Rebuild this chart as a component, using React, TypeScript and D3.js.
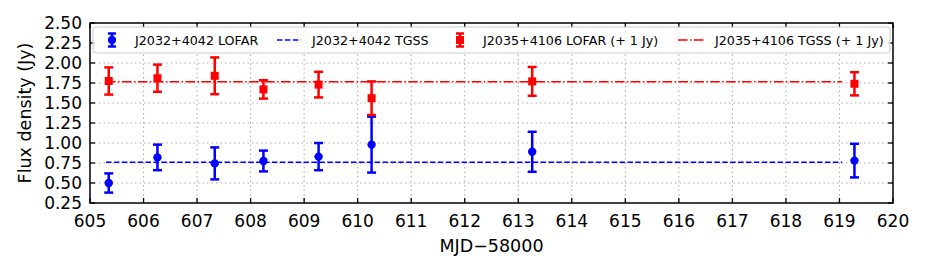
import React from "react";
import * as d3 from "d3";

const mjdBlue = [605.35, 606.26, 607.33, 608.24, 609.27, 610.26, 613.26, 619.28];
const fluxBlue = [0.5, 0.82, 0.745, 0.775, 0.83, 0.98, 0.89, 0.78];
const errBlue = [0.12, 0.16, 0.2, 0.13, 0.17, 0.35, 0.25, 0.21];

const mjdRed = [605.35, 606.26, 607.33, 608.24, 609.27, 610.26, 613.26, 619.28];
const fluxRed = [1.775, 1.81, 1.84, 1.67, 1.73, 1.56, 1.77, 1.74];
const errRed = [0.17, 0.17, 0.23, 0.115, 0.16, 0.21, 0.18, 0.145];

const tgssMJD = [605.3, 619.05];
const tgssBlue = 0.76;
const tgssRed = 1.765;

const xTicks = [605, 606, 607, 608, 609, 610, 611, 612, 613, 614, 615, 616, 617, 618, 619, 620];
const yTicks = [0.25, 0.5, 0.75, 1.0, 1.25, 1.5, 1.75, 2.0, 2.25, 2.5];

const legendLabels = [
  "J2032+4042 LOFAR",
  "J2032+4042 TGSS",
  "J2035+4106 LOFAR (+ 1 Jy)",
  "J2035+4106 TGSS (+ 1 Jy)",
];

const W = 928;
const H = 273;
const L = 90, R = 893, T = 23, B = 203;
const FONT = "DejaVu Sans, sans-serif";

export default function App() {
  const x = d3.scaleLinear().domain([605, 620]).range([L, R]);
  const y = d3.scaleLinear().domain([0.25, 2.5]).range([B, T]);
  const line = d3.line<[number, number]>().x((d) => x(d[0])).y((d) => y(d[1]));
  const BLUE = "#0000ff";
  const RED = "#ff0000";
  const tick = 5;

  const errbar = (cx: number, cy: number, lo: number, hi: number, color: string, sq: boolean, key: string, cap = 4.5) => (
    <g key={key}>
      <line x1={cx} x2={cx} y1={lo} y2={hi} stroke={color} strokeWidth={2.5} />
      <line x1={cx - cap} x2={cx + cap} y1={lo} y2={lo} stroke={color} strokeWidth={2.5} />
      <line x1={cx - cap} x2={cx + cap} y1={hi} y2={hi} stroke={color} strokeWidth={2.5} />
      {sq ? (
        <rect x={cx - 4} y={cy - 4} width={8} height={8} fill={color} />
      ) : (
        <circle cx={cx} cy={cy} r={4.2} fill={color} />
      )}
    </g>
  );

  const legendY = 40;
  return (
    <svg width={W} height={H} style={{ position: "absolute", left: 0, top: 0 }} fontFamily={FONT}>
      <rect x={0} y={0} width={W} height={H} fill="white" />
      {xTicks.slice(1, -1).map((t) => (
        <line key={"gx" + t} x1={x(t)} x2={x(t)} y1={T} y2={B} stroke="#b0b0b0" strokeWidth={1.1} strokeDasharray="1.5,3" />
      ))}
      {yTicks.slice(1, -1).map((t) => (
        <line key={"gy" + t} x1={L} x2={R} y1={y(t)} y2={y(t)} stroke="#b0b0b0" strokeWidth={1.1} strokeDasharray="1.5,3" />
      ))}
      <path d={line(tgssMJD.map((m) => [m, tgssBlue]) as [number, number][]) || ""} fill="none" stroke={BLUE} strokeWidth={1.5} strokeDasharray="5.5,2.4" />
      <path d={line(tgssMJD.map((m) => [m, tgssRed]) as [number, number][]) || ""} fill="none" stroke={RED} strokeWidth={1.5} strokeDasharray="9.6,2.4,1.5,2.4" />
      {mjdBlue.map((m, i) =>
        errbar(x(m), y(fluxBlue[i]), y(fluxBlue[i] - errBlue[i]), y(fluxBlue[i] + errBlue[i]), BLUE, false, "b" + i)
      )}
      {mjdRed.map((m, i) =>
        errbar(x(m), y(fluxRed[i]), y(fluxRed[i] - errRed[i]), y(fluxRed[i] + errRed[i]), RED, true, "r" + i)
      )}
      {xTicks.map((t) => (
        <g key={"tx" + t}>
          <line x1={x(t)} x2={x(t)} y1={B} y2={B - tick} stroke="black" strokeWidth={1.3} />
          <line x1={x(t)} x2={x(t)} y1={T} y2={T + tick} stroke="black" strokeWidth={1.3} />
          <text x={x(t)} y={227} textAnchor="middle" fontSize={17}>{t}</text>
        </g>
      ))}
      {yTicks.map((t) => (
        <g key={"ty" + t}>
          <line x1={L} x2={L + tick} y1={y(t)} y2={y(t)} stroke="black" strokeWidth={1.3} />
          <line x1={R} x2={R - tick} y1={y(t)} y2={y(t)} stroke="black" strokeWidth={1.3} />
          <text x={82} y={y(t)} dy="0.36em" textAnchor="end" fontSize={17}>{t.toFixed(2)}</text>
        </g>
      ))}
      <rect x={93} y={27} width={797} height={26} rx={3} fill="white" fillOpacity={0.8} stroke="#cccccc" strokeWidth={1} />
      {errbar(112, legendY, legendY + 6.5, legendY - 6.5, BLUE, false, "lb", 4)}
      <text x={135} y={legendY} dy="0.36em" fontSize={12.7}>{legendLabels[0]}</text>
      <line x1={277} x2={301} y1={legendY} y2={legendY} stroke={BLUE} strokeWidth={1.5} strokeDasharray="5.5,2.4" />
      <text x={312} y={legendY} dy="0.36em" fontSize={12.7}>{legendLabels[1]}</text>
      {errbar(460, legendY, legendY + 6.5, legendY - 6.5, RED, true, "lr", 4)}
      <text x={483} y={legendY} dy="0.36em" fontSize={12.7}>{legendLabels[2]}</text>
      <line x1={678} x2={704} y1={legendY} y2={legendY} stroke={RED} strokeWidth={1.5} strokeDasharray="9.6,2.4,1.5,2.4" />
      <text x={715} y={legendY} dy="0.36em" fontSize={12.7}>{legendLabels[3]}</text>
      <rect x={L} y={T} width={R - L} height={B - T} fill="none" stroke="black" strokeWidth={1.5} />
      <text x={(L + R) / 2} y={252} textAnchor="middle" fontSize={17.5}>MJD−58000</text>
      <text transform={`translate(31,${(T + B) / 2}) rotate(-90)`} textAnchor="middle" fontSize={17.5}>Flux density (Jy)</text>
    </svg>
  );
}
